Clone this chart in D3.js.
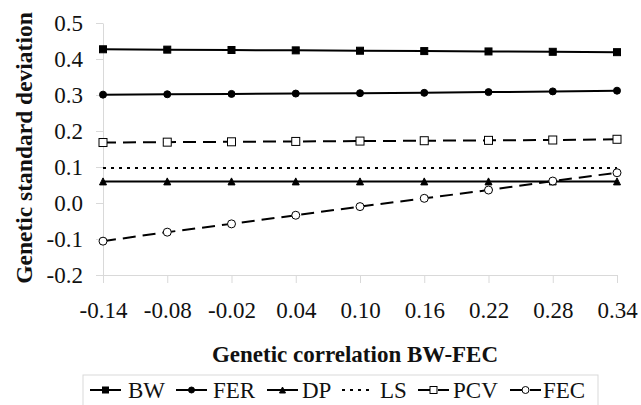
<!DOCTYPE html>
<html>
<head>
<meta charset="utf-8">
<script src="https://cdn.jsdelivr.net/npm/d3@7"></script>
<style>
  body { margin: 0; background: #fff; }
</style>
</head>
<body>
<svg width="641" height="405" font-family="Liberation Serif"></svg>
<script>
// genetic correlation BW-FEC (x categories)
var categories = ["-0.14", "-0.08", "-0.02", "0.04", "0.10", "0.16", "0.22", "0.28", "0.34"];
var yTicks = [-0.2, -0.1, 0.0, 0.1, 0.2, 0.3, 0.4, 0.5];

var bw  = [0.427, 0.426, 0.425, 0.424, 0.423, 0.422, 0.421, 0.420, 0.419];
var fer = [0.301, 0.302, 0.303, 0.304, 0.305, 0.306, 0.308, 0.310, 0.312];
var dp  = [0.060, 0.060, 0.060, 0.060, 0.060, 0.060, 0.060, 0.060, 0.060];
var ls  = [0.097, 0.097, 0.097, 0.097, 0.097, 0.097, 0.097, 0.097, 0.097];
var pcv = [0.168, 0.169, 0.170, 0.171, 0.172, 0.173, 0.174, 0.175, 0.177];
var fec = [-0.106, -0.081, -0.058, -0.034, -0.010, 0.013, 0.036, 0.061, 0.084];

var series = [
    {name: "BW",  values: bw,  dash: null,   marker: "square",   fill: "#000"},
    {name: "FER", values: fer, dash: null,   marker: "circle",   fill: "#000"},
    {name: "DP",  values: dp,  dash: null,   marker: "triangle", fill: "#000"},
    {name: "LS",  values: ls,  dash: "3,5",  marker: null,       fill: "none"},
    {name: "PCV", values: pcv, dash: "13,7", marker: "square",   fill: "#fff"},
    {name: "FEC", values: fec, dash: "13,7", marker: "circle",   fill: "#fff"}
];

var svg = d3.select("svg");
var axisColor = "#d9d9d9";
var font = "Liberation Serif";

var x = d3.scalePoint().domain(categories).range([103, 617]);
var y = d3.scaleLinear().domain([-0.2, 0.5]).range([275, 23]);

// y axis
var gy = svg.append("g")
    .attr("transform", "translate(103,0)")
    .call(d3.axisLeft(y).tickValues(yTicks).tickSize(7).tickSizeOuter(0).tickPadding(13)
        .tickFormat(function(d) { return d.toFixed(1); }));
gy.attr("font-family", font).attr("font-size", 23);
gy.selectAll("path, line").attr("stroke", axisColor);
gy.selectAll("text").attr("fill", "#111").attr("font-family", font);

// x axis
var gx = svg.append("g")
    .attr("transform", "translate(0,275)")
    .call(d3.axisBottom(x).tickSize(8).tickSizeOuter(0).tickPadding(19));
gx.attr("font-family", font).attr("font-size", 23);
gx.selectAll("path, line").attr("stroke", axisColor);
gx.selectAll("text").attr("fill", "#111").attr("font-family", font);

// axis titles
svg.append("text")
    .attr("transform", "translate(32,148) rotate(-90)")
    .attr("text-anchor", "middle")
    .attr("font-family", font)
    .attr("font-size", 23.5)
    .attr("font-weight", "bold")
    .attr("fill", "#111")
    .text("Genetic standard deviation");

svg.append("text")
    .attr("x", 355)
    .attr("y", 362)
    .attr("text-anchor", "middle")
    .attr("font-family", font)
    .attr("font-size", 23)
    .attr("font-weight", "bold")
    .attr("fill", "#111")
    .text("Genetic correlation BW-FEC");

// marker drawing
function drawMarker(g, type, cx, cy, fill, size) {
    if (type == "square") {
        g.append("rect")
            .attr("x", cx - size / 2).attr("y", cy - size / 2)
            .attr("width", size).attr("height", size)
            .attr("fill", fill).attr("stroke", "#000").attr("stroke-width", 1);
    } else if (type == "circle") {
        g.append("circle")
            .attr("cx", cx).attr("cy", cy).attr("r", size / 2)
            .attr("fill", fill).attr("stroke", "#000").attr("stroke-width", 1);
    } else if (type == "triangle") {
        var h = size;
        g.append("path")
            .attr("d", "M" + cx + "," + (cy - h / 2) + "L" + (cx + h / 2) + "," + (cy + h / 2) + "L" + (cx - h / 2) + "," + (cy + h / 2) + "Z")
            .attr("fill", fill).attr("stroke", "#000").attr("stroke-width", 1);
    }
}

var line = d3.line()
    .x(function(d, i) { return x(categories[i]); })
    .y(function(d) { return y(d); });

series.forEach(function(s) {
    var g = svg.append("g");
    g.append("path")
        .attr("d", line(s.values))
        .attr("fill", "none")
        .attr("stroke", "#000")
        .attr("stroke-width", 2)
        .attr("stroke-dasharray", s.dash);
    if (s.marker) {
        s.values.forEach(function(v, i) {
            var sz = s.fill == "#fff" ? 8 : 7;
            drawMarker(g, s.marker, x(categories[i]), y(v), s.fill, sz);
        });
    }
});

// legend
svg.append("rect")
    .attr("x", 83).attr("y", 375)
    .attr("width", 515).attr("height", 40)
    .attr("fill", "none").attr("stroke", axisColor);

var legendX = [90, 176, 267, 342, 418, 510];
var legendTextX = [128, 213, 302, 380, 453, 543];

series.forEach(function(s, i) {
    var g = svg.append("g");
    var x0 = legendX[i], x1 = x0 + 31, ly = 390;
    g.append("line")
        .attr("x1", x0).attr("x2", x1).attr("y1", ly).attr("y2", ly)
        .attr("stroke", "#000")
        .attr("stroke-width", 2)
        .attr("stroke-dasharray", s.dash);
    if (s.marker) {
        drawMarker(g, s.marker, (x0 + x1) / 2, ly, s.fill, s.fill == "#fff" ? 7 : 6);
    }
    g.append("text")
        .attr("x", legendTextX[i])
        .attr("y", 398)
        .attr("font-family", font)
        .attr("font-size", 23)
        .attr("fill", "#111")
        .text(s.name);
});
</script>
</body>
</html>
